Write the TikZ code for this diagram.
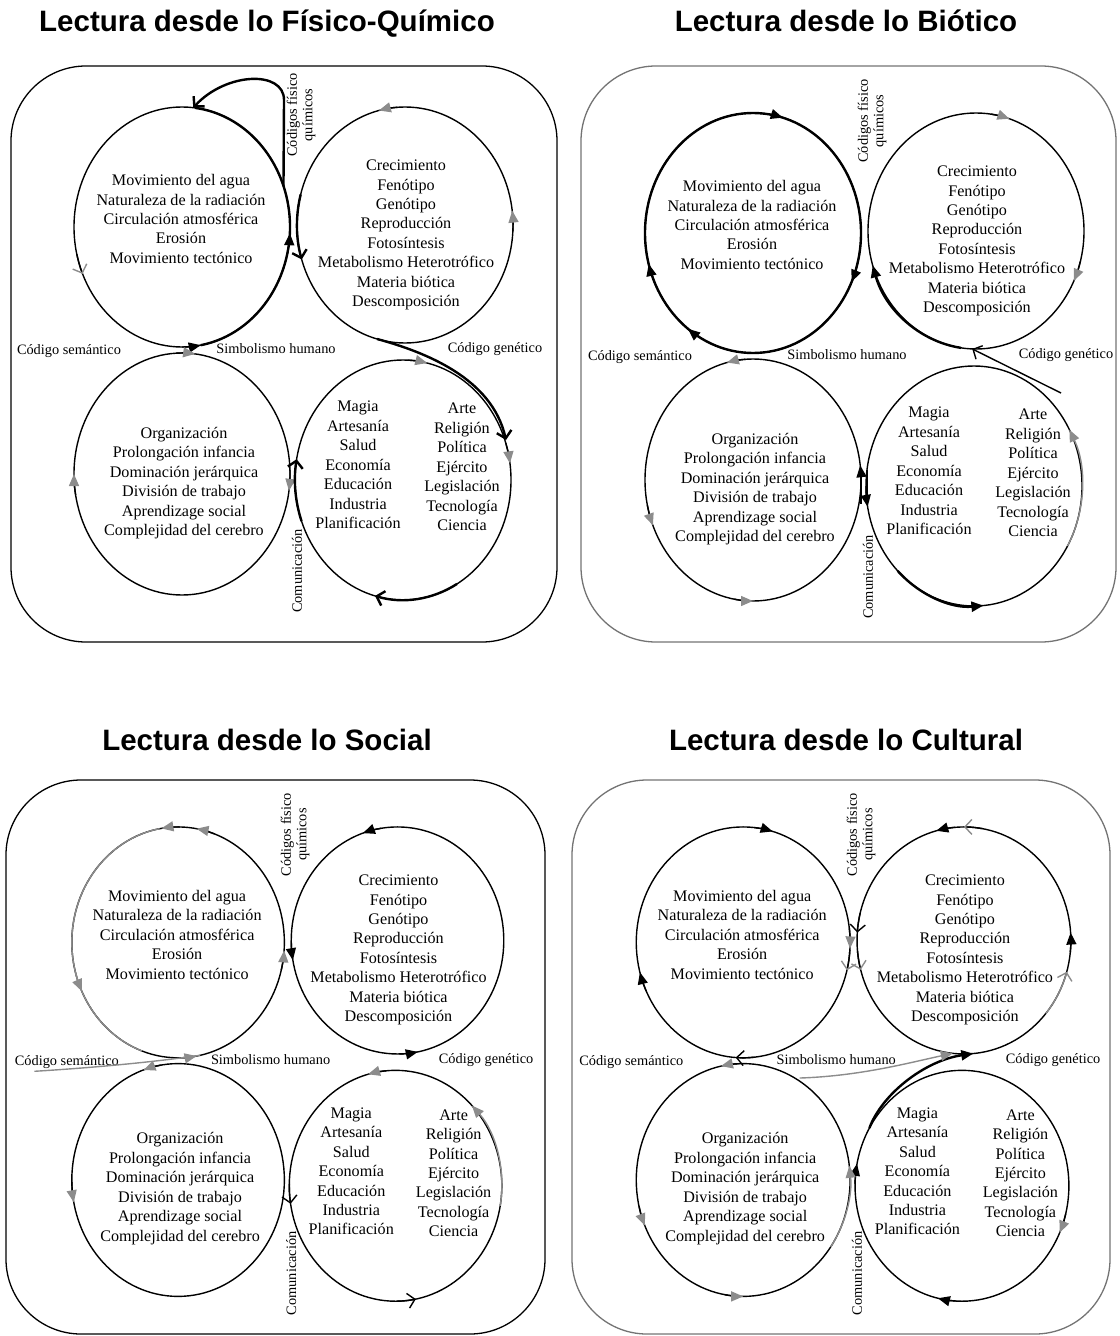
\documentclass[tikz,border=0pt]{standalone}
\usepackage{fontspec}
\setmainfont{Liberation Serif}
\newfontfamily\titlefont{Liberation Sans}
\usetikzlibrary{arrows.meta,positioning}

\definecolor{gry}{gray}{0.55}
\definecolor{boxgry}{gray}{0.45}

% current ring: centre and radii (screen coordinates, y down)
\newcommand\setell[4]{\def\cx{#1}\def\cy{#2}\def\rx{#3}\def\ry{#4}}
\newcommand\Ephy{\setell{182}{227}{108}{120}}
\newcommand\Ebio{\setell{405}{225}{108}{118}}
\newcommand\Esoc{\setell{182}{474}{108}{121}}
\newcommand\Ecul{\setell{403}{480}{108}{120}}
% piece of the current ring between two angles (counter-clockwise when #1<#2)
\newcommand\ringseg[3]{\draw[#3] ({\cx+\rx*cos(#1)},{\cy-\ry*sin(#1)}) arc[start angle={-(#1)}, end angle={-(#2)}, x radius=\rx, y radius=\ry];}
% arrow tip on the current ring: angle, sense (1 ccw, -1 cw), style
\newcommand\ringtip[3]{\ringseg{#1-(#2)*10}{#1}{#3}}
\newcommand\ringpt[2]{\coordinate (#1) at ({\cx+\rx*cos(#2)},{\cy-\ry*sin(#2)});}

\newcommand\panelbase[1]{%
  \Ephy \draw[ring] (\cx,\cy) ellipse [x radius=\rx, y radius=\ry];
  \Ebio \draw[ring] (\cx,\cy) ellipse [x radius=\rx, y radius=\ry];
  \Esoc \draw[ring] (\cx,\cy) ellipse [x radius=\rx, y radius=\ry];
  \Ecul \draw[ring] (\cx,\cy) ellipse [x radius=\rx, y radius=\ry];
  \node[lst] (#1-phy) at (181,219) {Movimiento del agua\\Naturaleza de la radiación\\Circulación atmosférica\\Erosión\\Movimiento tectónico};
  \node[lst] (#1-bio) at (406,235) {Crecimiento\\Fenótipo\\Genótipo\\Reproducción\\Fotosíntesis\\Metabolismo Heterotrófico\\Materia biótica\\Descomposición};
  \node[lst] (#1-soc) at (184,483) {Organización\\Prolongación infancia\\Dominación jerárquica\\División de trabajo\\Aprendizage social\\Complejidad del cerebro};
  \node[lst] (#1-cula) at (358,465) {Magia\\Artesanía\\Salud\\Economía\\Educación\\Industria\\Planificación};
  \node[lst] (#1-culb) at (462,467) {Arte\\Religión\\Política\\Ejército\\Legislación\\Tecnología\\Ciencia};
  \node[lbl] (#1-sem) at (69,351) {Código semántico};
  \node[lbl] (#1-sim) at (276,349) {Simbolismo humano};
  \node[lbl] (#1-gen) at (495,349) {Código genético};
  \node[lbl,rotate=90,align=center] (#1-fq) at (301,115) {Códigos físico\\químicos};
  \node[lbl,rotate=90] (#1-com) at (297,571) {Comunicación};
}

\begin{document}
\begin{tikzpicture}[x=0.5bp, y=-0.5bp,
    ring/.style={line width=0.7bp},
    thk/.style={line width=1.2bp},
    frame/.style={line width=0.65bp, rounded corners=37.5bp},
    lst/.style={font=\fontsize{8.1}{9.75}\selectfont, align=center, inner sep=0pt},
    lbl/.style={font=\fontsize{7.2}{7.8}\selectfont, inner sep=0pt},
    ttl/.style={font=\titlefont\bfseries\fontsize{14.8}{16}\selectfont, anchor=base},
    tb/.style={-{Triangle[length=6bp,width=5bp]}},
    tg/.style={-{Triangle[length=6bp,width=5bp,color=gry]}},
    ob/.style={-{Straight Barb[length=3.5bp,width=7.5bp]}},
    og/.style={-{Straight Barb[length=3.5bp,width=7.5bp,color=gry]}}]
  \useasboundingbox (0,0) rectangle (1119,1336);

  % titles and frames
  \node[ttl] (t1) at (267,32) {Lectura desde lo Físico-Químico};
  \node[ttl] (t2) at (846,32) {Lectura desde lo Biótico};
  \node[ttl] (t3) at (267,750) {Lectura desde lo Social};
  \node[ttl] (t4) at (846,750) {Lectura desde lo Cultural};
  \draw[frame] (11,66) rectangle (557,642);
  \draw[frame,draw=boxgry] (581,66) rectangle (1116,642);
  \draw[frame] (6,780) rectangle (545,1334);
  \draw[frame,draw=boxgry] (572,780) rectangle (1110,1334);

  % physico-chemical reading
  \begin{scope}
    \panelbase{p1}
    \Ephy
    \ringseg{-80}{83}{thk}
    \ringtip{357}{1}{ring,tb}
    \ringtip{280}{1}{ring,tb}
    \ringtip{203}{1}{ring,og}
    \ringpt{p1-lo}{20}
    \ringpt{p1-top}{84}
    \draw[thk,ob] (p1-lo) -- (284,100) .. controls (284,70) and (226,72) .. (p1-top);
    \Ebio
    \ringseg{165}{197}{thk,ob}
    \ringtip{104}{1}{ring,tg}
    \ringtip{7}{1}{ring,tg}
    \ringpt{p1-bb}{255}
    \Esoc
    \ringtip{83}{-1}{ring,tg}
    \ringtip{180}{-1}{ring,tg}
    \ringtip{352}{-1}{ring,tg}
    \Ecul
    \ringseg{200}{170}{thk,ob}
    \ringtip{77}{-1}{ring,tg}
    \ringtip{8}{-1}{ring,tg}
    \ringseg{300}{255}{thk,ob}
    \draw[thk,ob] (p1-bb) .. controls (425,352) and (492,378) .. (506,440);
  \end{scope}

  % biotic reading
  \begin{scope}[shift={(571,6)}]
    \panelbase{p2}
    \Ephy
    \draw[thk] (\cx,\cy) ellipse [x radius=\rx, y radius=\ry];
    \ringtip{74}{-1}{ring,tb}
    \ringtip{336}{-1}{ring,tb}
    \ringtip{195}{-1}{ring,tb}
    \ringtip{233}{-1}{ring,tb}
    \Ebio
    \ringtip{72}{-1}{ring,tg}
    \ringtip{335}{-1}{ring,tg}
    \ringseg{262}{197}{thk,tb}
    \ringpt{p2-bb}{268}
    \coordinate (p2-gen) at (490,387);
    \draw[ring,ob] (p2-gen) -- (p2-bb);
    \Esoc
    \ringtip{104}{1}{ring,tg}
    \ringtip{202}{1}{ring,tg}
    \ringtip{270}{1}{ring,tg}
    \ringtip{7}{1}{ring,tb}
    \Ecul
    \ringtip{190}{1}{ring,tb}
    \ringseg{-30}{28}{ring,draw=gry,tg}
    \ringseg{225}{275}{thk,tb}
    \draw[ring] (290,464) -- (290,498) (296,464) -- (296,498);
  \end{scope}

  % social reading
  \begin{scope}[shift={(-1,724)}, xscale=0.984, yscale=0.962]
    \panelbase{p3}
    \Ephy
    \ringseg{100}{250}{ring,draw=gry}
    \ringtip{99}{1}{ring,tg}
    \ringtip{80}{1}{ring,tg}
    \ringtip{205}{1}{ring,draw=gry,tg}
    \ringtip{356}{1}{ring,tg}
    \ringtip{280}{1}{ring,tg}
    \ringpt{p3-bot}{282}
    \Ebio
    \ringtip{190}{1}{ring,tb}
    \ringtip{109}{1}{ring,tb}
    \ringtip{281}{1}{ring,tb}
    \Esoc
    \ringtip{109}{1}{ring,tg}
    \ringtip{191}{1}{ring,tg}
    \Ecul
    \ringtip{189}{1}{ring,ob}
    \ringtip{105}{1}{ring,tg}
    \ringseg{-10}{44}{ring,draw=gry,tg}
    \ringtip{281}{1}{ring,ob}
    \coordinate (p3-semline) at (36,361);
    \draw[ring,draw=gry] (p3-semline) .. controls (100,357) and (160,351) .. (p3-bot);
  \end{scope}

  % cultural reading
  \begin{scope}[shift={(563,724)}, xscale=0.99, yscale=0.962]
    \panelbase{p4}
    \Ephy
    \ringtip{74}{-1}{ring,tb}
    \ringtip{195}{-1}{ring,tb}
    \ringtip{266}{-1}{ring,ob}
    \ringtip{357}{-1}{ring,tg}
    \ringtip{346}{-1}{ring,og}
    \Ebio
    \ringtip{176}{1}{ring,ob}
    \ringtip{195}{1}{ring,og}
    \ringtip{105}{1}{ring,tb}
    \ringtip{90}{1}{ring,og}
    \ringtip{4}{1}{ring,tb}
    \ringseg{-40}{-16}{ring,draw=gry,og}
    \ringpt{p4-bg}{264}
    \ringpt{p4-bk}{275}
    \Ecul
    \ringtip{169}{-1}{ring,tb}
    \ringtip{336}{-1}{ring,tg}
    \ringtip{257}{-1}{ring,tb}
    \ringpt{p4-dl}{150}
    \draw[thk,tb] (p4-dl) .. controls (322,385) and (365,350) .. (p4-bk);
    \coordinate (p4-simline) at (239,368);
    \draw[ring,draw=gry,tg] (p4-simline) .. controls (300,366) and (350,352) .. (p4-bg);
    \Esoc
    \ringtip{102}{1}{ring,tg}
    \ringtip{203}{1}{ring,tg}
    \ringtip{270}{1}{ring,tg}
    \ringseg{-35}{7}{ring,draw=gry,tg}
  \end{scope}
\end{tikzpicture}
\end{document}
